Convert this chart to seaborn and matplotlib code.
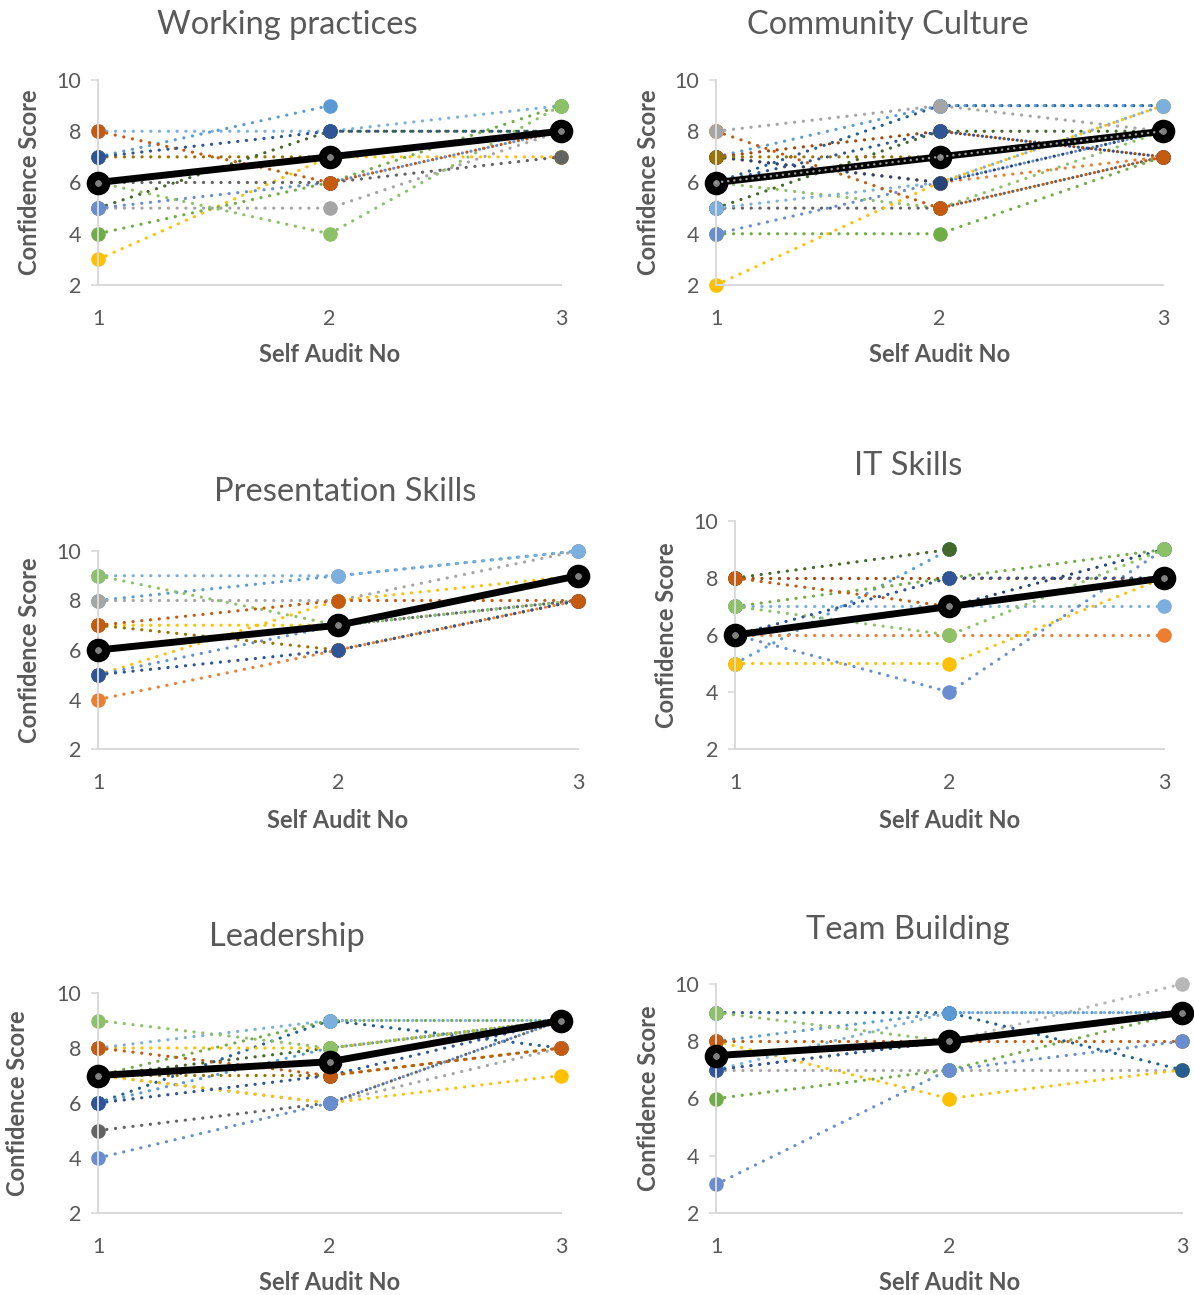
import numpy as np
import pandas as pd
import matplotlib
matplotlib.use("Agg")
import matplotlib.pyplot as plt
import seaborn as sns

nan = np.nan
audit_no = [1, 2, 3]

# Office palette
BLUE = "#2F5597"
NAVY = "#264478"
BLUE2 = "#698ED0"
LBLUE = "#5B9BD5"
LBLUE2 = "#7CAFDD"
DLBLUE = "#255E91"
ORANGE = "#ED7D31"
ORANGE_D = "#C55A11"
DORANGE = "#9E480E"
GRAY = "#A5A5A5"
GRAY2 = "#B7B7B7"
DGRAY = "#636363"
GOLD = "#FFC000"
DGOLD = "#997300"
GREEN = "#70AD47"
GREEN2 = "#8CC168"
DGREEN = "#43682B"

# Working practices
wp_colors = [LBLUE2, DGOLD, GOLD, DGREEN, GREEN, LBLUE, GRAY, BLUE2, GREEN2, DGRAY, ORANGE_D, BLUE]
wp_scores = [[8, 8, 9], [7, 7, 8], [3, 7, 7], [5, 8, 8], [4, 6, 9], [7, 9, nan],
             [5, 5, 8], [5, 6, 8], [6, 4, 9], [6, 6, 7], [8, 6, 8], [7, 8, 8]]
wp_mean = [6, 7, 8]

# Community Culture
cc_colors = [DLBLUE, LBLUE, DGREEN, GREEN2, DGRAY, GREEN, BLUE2, DORANGE, GOLD, LBLUE2,
             ORANGE, NAVY, BLUE, ORANGE_D, DGOLD, GRAY]
cc_scores = [[6, 9, 9], [7, 9, 9], [5, 8, 8], [6, 5, 8], [5, 5, 7], [4, 4, 7], [4, 6, 8],
             [7, 8, 7], [2, 6, 9], [5, 6, 9], [7, 6, 7], [7, 6, 8], [6, 8, 7], [8, 5, 7],
             [7, 7, 8], [8, 9, 8]]
cc_mean = [6, 7, 8]
cc_overlay = [6, 7, 8]

# Presentation Skills
ps_colors = [LBLUE, GOLD, GOLD, BLUE2, DGRAY, DGOLD, GRAY, LBLUE2, GREEN2, ORANGE, BLUE, ORANGE_D]
ps_scores = [[8, 9, 10], [7, 7, 9], [5, 8, 9], [5, 7, 8], [6, 7, 8], [7, 6, 8],
             [8, 8, 10], [9, 9, 10], [9, 7, 8], [4, 6, 8], [5, 6, 8], [7, 8, 8]]
ps_mean = [6, 7, 9]

# IT Skills
it_colors = [LBLUE, DORANGE, NAVY, GREEN, LBLUE2, ORANGE, GOLD, BLUE2, GREEN2, DGREEN, BLUE, ORANGE_D]
it_scores = [[5, 9, nan], [8, 8, 8], [6, 7, 9], [7, 8, 9], [7, 7, 7], [6, 6, 6],
             [5, 5, 8], [6, 4, 9], [7, 6, 9], [8, 9, nan], [6, 8, 8], [8, 7, 8]]
it_mean = [6, 7, 8]

# Leadership
ld_colors = [DLBLUE, LBLUE, GREEN, DGREEN, GOLD, DGOLD, GRAY, GOLD, LBLUE2, GREEN2,
             DGRAY, BLUE2, BLUE, ORANGE_D]
ld_scores = [[6, 9, 8], [6, 8, 9], [7, 9, 9], [7, 8, 9], [8, 8, 9], [7, 7, 8], [7, 6, 8],
             [7, 6, 7], [8, 9, 9], [9, 8, 9], [5, 6, 9], [4, 6, 9], [6, 7, 9], [8, 7, 8]]
ld_mean = [7, 7.5, 9]

# Team Building
tb_colors = [GRAY, GOLD, GREEN, GRAY2, LBLUE2, DLBLUE, LBLUE, GREEN2, ORANGE_D, BLUE, BLUE2]
tb_scores = [[7, 7, 7], [8, 6, 7], [6, 7, 9], [7, 8, 10], [7, 9, 9], [9, 9, 7],
             [8, 9, 9], [9, 8, 9], [8, 8, 8], [7, 8, 9], [3, 7, 8]]
tb_mean = [7.5, 8, 9]

TXT = "#595959"
W, H = 1194, 1295

sns.set_style("white")
plt.rcParams["font.family"] = ["Lato", "DejaVu Sans"]

fig = plt.figure(figsize=(W / 100, H / 100), dpi=100)

DOT = (0, (0.05, 2.7))


def add_panel(box, title, title_xy, ylab_x, xlab_xy, colors, scores, mean, overlay=None):
    left, right, top, bottom = box
    ax = fig.add_axes([left / W, 1 - bottom / H, (right - left) / W, (bottom - top) / H])
    for c, vals in zip(colors, scores):
        df = pd.DataFrame({"Self Audit No": audit_no, "Confidence Score": vals})
        sns.lineplot(data=df, x="Self Audit No", y="Confidence Score", ax=ax,
                     color=c, lw=2.3, linestyle=DOT, dash_capstyle="round",
                     marker="o", markersize=10.5, markeredgecolor=c, markeredgewidth=0,
                     clip_on=False, estimator=None, sort=False)
    dfm = pd.DataFrame({"Self Audit No": audit_no, "Confidence Score": mean})
    sns.lineplot(data=dfm, x="Self Audit No", y="Confidence Score", ax=ax,
                 color="black", lw=5, marker="o", markersize=11,
                 markerfacecolor="#808080", markeredgecolor="black", markeredgewidth=6,
                 clip_on=False, estimator=None, sort=False, zorder=5)
    if overlay is not None:
        dfo = pd.DataFrame({"Self Audit No": audit_no, "Confidence Score": overlay})
        sns.lineplot(data=dfo, x="Self Audit No", y="Confidence Score", ax=ax,
                     color="#9E9E9E", lw=1.8, linestyle=(0, (0.05, 2.4)),
                     dash_capstyle="round", clip_on=False, estimator=None, zorder=6)
    ax.set_xlim(1, 3)
    ax.set_ylim(2, 10)
    ax.set_xticks(audit_no)
    ax.set_yticks([2, 4, 6, 8, 10])
    ax.set_xlabel("")
    ax.set_ylabel("")
    for s in ["top", "right"]:
        ax.spines[s].set_visible(False)
    for s in ["left", "bottom"]:
        ax.spines[s].set_color("#D9D9D9")
        ax.spines[s].set_linewidth(1.4)
    ax.tick_params(axis="y", length=5, width=1.2, color="#D9D9D9", pad=7,
                   labelsize=15.5, labelcolor=TXT, left=True)
    ax.tick_params(axis="x", length=0, pad=17, labelsize=15.5, labelcolor=TXT)
    ax.patch.set_alpha(0)
    fig.text(title_xy[0] / W, 1 - title_xy[1] / H, title, ha="center", va="center",
             fontsize=23.5, color=TXT)
    fig.text(ylab_x / W, 1 - (top + bottom) / 2 / H, "Confidence Score", ha="center",
             va="center", rotation=90, fontsize=17, fontweight="bold", color=TXT)
    fig.text(xlab_xy[0] / W, 1 - xlab_xy[1] / H, "Self Audit No", ha="center",
             va="center", fontsize=17, fontweight="bold", color=TXT)
    return ax


add_panel((98, 561, 80, 285), "Working practices", (287, 25), 30, (330, 355),
          wp_colors, wp_scores, wp_mean)
add_panel((716, 1163, 80, 285), "Community Culture", (888, 25), 648, (940, 355),
          cc_colors, cc_scores, cc_mean, cc_overlay)
add_panel((98, 578, 551, 749), "Presentation Skills", (345, 492), 30, (338, 820),
          ps_colors, ps_scores, ps_mean)
add_panel((735, 1164, 521, 749), "IT Skills", (908, 466), 666, (950, 820),
          it_colors, it_scores, it_mean)
add_panel((98, 561, 993, 1213), "Leadership", (287, 937), 18, (330, 1282),
          ld_colors, ld_scores, ld_mean)
add_panel((716, 1182, 984, 1213), "Team Building", (908, 930), 648, (950, 1282),
          tb_colors, tb_scores, tb_mean)

fig.savefig("out.png", dpi=100, facecolor="white")
